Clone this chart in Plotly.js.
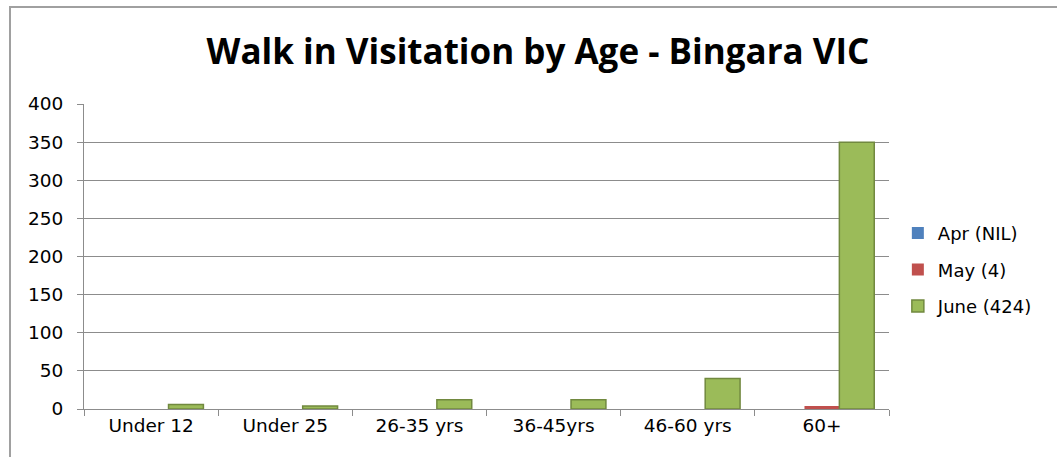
<!DOCTYPE html>
<html>
<head>
<meta charset="utf-8">
<script src="https://cdn.plot.ly/plotly-3.0.1.min.js"></script>
<style>
html,body{margin:0;padding:0;background:#fff;}
#wrap{position:relative;width:1057px;height:457px;}
#chart{width:1057px;height:457px;}
#frame{position:absolute;left:9px;top:6px;width:1100px;height:500px;border:2px solid #a0a0a0;pointer-events:none;box-sizing:border-box;}
</style>
</head>
<body>
<div id="wrap"><div id="chart"></div><div id="frame"></div></div>
<script>
const categories = ["Under 12", "Under 25", "26-35 yrs", "36-45yrs", "46-60 yrs", "60+"];
const aprValues = [0, 0, 0, 0, 0, 0];
const mayValues = [0, 0, 0, 0, 0, 4];
const juneValues = [6, 4, 12, 12, 40, 350];
const seriesNames = ["Apr (NIL)", "May (4)", "June (424)"];
const yTicks = [0, 50, 100, 150, 200, 250, 300, 350, 400];

const traces = [
  {type: "bar", name: seriesNames[0], x: categories, y: aprValues, legendgroup: "a",
   marker: {color: "#4F81BD", line: {width: 0}}},
  {type: "bar", name: seriesNames[1], x: categories, y: mayValues, legendgroup: "b",
   marker: {color: "#C0504D", line: {width: 0}}},
  {type: "bar", name: seriesNames[2], x: categories, y: juneValues, legendgroup: "c",
   marker: {color: "#9BBB59", line: {color: "#71893F", width: 1.5}}}
];

const layout = {
  width: 1057, height: 457,
  margin: {l: 84, r: 168, t: 104, b: 48},
  paper_bgcolor: "#fff", plot_bgcolor: "#fff",
  barmode: "group", bargap: 0.22, bargroupgap: 0,
  title: {text: "<b>Walk in Visitation by Age - Bingara VIC</b>",
          font: {family: "'Open Sans', Lato, sans-serif", size: 35, color: "#000"},
          x: 0.509, xanchor: "center", y: 0.887, yanchor: "middle"},
  font: {family: "'DejaVu Sans', sans-serif", size: 18, color: "#000"},
  xaxis: {type: "category", showline: true, linecolor: "#8c8c8c", linewidth: 1,
          ticks: "outside", tickson: "boundaries", ticklen: 6, tickcolor: "#8c8c8c",
          showgrid: false, tickfont: {size: 18.5}, fixedrange: true},
  yaxis: {range: [0, 400], tickvals: yTicks, showline: true, linecolor: "#8c8c8c", linewidth: 1,
          ticks: "outside", ticklen: 6, tickcolor: "#8c8c8c",
          showgrid: true, gridcolor: "#8c8c8c", gridwidth: 1, zeroline: false,
          tickfont: {size: 18.5}, ticklabelstandoff: 10, fixedrange: true},
  legend: {x: 1.011, xanchor: "left", y: 0.456, yanchor: "middle",
           font: {size: 18, color: "#000"}, itemwidth: 30, tracegroupgap: 10,
           traceorder: "grouped", bgcolor: "rgba(0,0,0,0)"},
  showlegend: true
};

Plotly.newPlot("chart", traces, layout, {displayModeBar: false, staticPlot: true});
</script>
</body>
</html>
